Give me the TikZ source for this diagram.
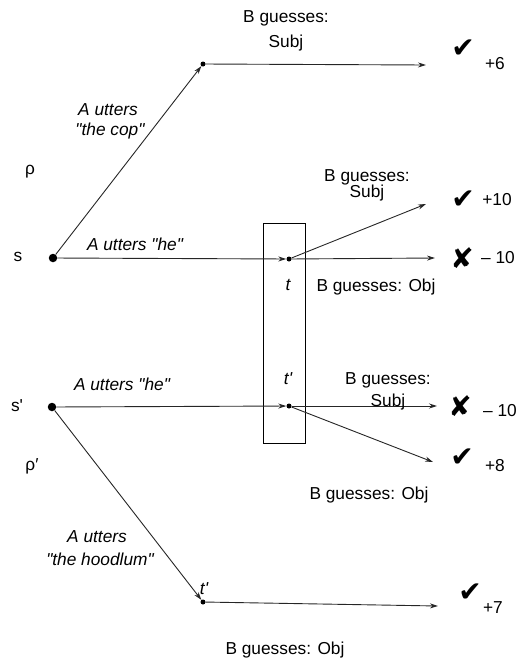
\documentclass[tikz,border=0pt]{standalone}
\usepackage{fontspec}
\newfontfamily\lib{Liberation Sans}
\newfontfamily\dej{DejaVu Sans}
\usetikzlibrary{arrows.meta}
\begin{document}
\begin{tikzpicture}[x=1pt,y=-1pt,
  txt/.style={font=\lib\fontsize{17.3}{19}\selectfont, inner sep=0pt, anchor=center},
  itx/.style={font=\lib\itshape\fontsize{17.3}{19}\selectfont, inner sep=0pt, anchor=center},
  outmark/.style={font=\dej\fontsize{28}{30}\selectfont, inner sep=0pt},
  bigdot/.style={circle, fill=black, inner sep=0pt, minimum size=8.5pt},
  smdot/.style={circle, fill=black, inner sep=0pt, minimum size=5pt},
  arr/.style={line width=0.9pt, draw=black!85, -{Stealth[length=8pt,width=5pt]}}]
\useasboundingbox (0,0) rectangle (517,659);

% nodes
\node[bigdot] (s) at (53,258) {};
\node[bigdot] (s2) at (52,407) {};
\node[smdot] (u) at (203,64) {};
\node[smdot] (t) at (289,259) {};
\node[smdot] (t2) at (289,406) {};
\node[smdot] (lt) at (203,602) {};
\coordinate (e1) at (426,65);
\coordinate (e2) at (426,204);
\coordinate (e3) at (435,258);
\coordinate (e4) at (437,406);
\coordinate (e5) at (433,462);
\coordinate (e6) at (438,606);

% box
\node[draw, line width=0.9pt, minimum width=42pt, minimum height=220pt, inner sep=0pt] (box) at (284,333) {};

% connectors
\draw[arr] (s) -- (u);
\draw[arr] (u) -- (e1);
\draw[arr] (s) -- (t);
\draw[arr] (t) -- (e2);
\draw[arr] (t) -- (e3);
\draw[arr] (s2) -- (t2);
\draw[arr] (t2) -- (e4);
\draw[arr] (t2) -- (e5);
\draw[arr] (s2) -- (lt);
\draw[arr] (lt) -- (e6);

% left labels
\node[txt] (ls) at (18,257) {s};
\node[txt] (ls2) at (17,406) {s'};
\node[txt] (rho) at (30,172) {ρ};
\node[txt] (rho2) at (32,466) {ρ′};

\node[itx] (a1) at (108,110) {A utters};
\node[itx] (a1b) at (110,131) {"the cop"};
\node[itx] (a2) at (135,244) {A utters "he"};
\node[itx] (a3) at (122,384) {A utters "he"};
\node[itx] (a4) at (97,537) {A utters};
\node[itx] (a4b) at (100,559) {"the hoodlum"};

\node[itx] (lt1) at (288,285) {t};
\node[itx] (lt2) at (288,379) {t'};
\node[itx] (lt3) at (204,589) {t'};

% B guesses labels
\node[txt] (b1) at (286,18) {B guesses:};
\node[txt] (b1b) at (286,43) {Subj};
\node[txt] (b2) at (367,177) {B guesses:};
\node[txt] (b2b) at (367,193) {Subj};
\node[txt] (b3) at (376,287) {B guesses: Obj};
\node[txt] (b4) at (388,380) {B guesses:};
\node[txt] (b4b) at (388,402) {Subj};
\node[txt] (b5) at (369,495) {B guesses: Obj};
\node[txt] (b6) at (285,650) {B guesses: Obj};

% outcomes
\node[outmark] (c1) at (463,49) {✔};
\node[txt] (p1) at (495,64) {+6};
\node[outmark] (c2) at (463,200) {✔};
\node[txt] (p2) at (497,200) {+10};
\node[outmark] (x1) at (462,258) {✘};
\node[txt] (p3) at (498,258) {– 10};
\node[outmark] (x2) at (460,406) {✘};
\node[txt] (p4) at (500,411) {– 10};
\node[outmark] (c3) at (462,458) {✔};
\node[txt] (p5) at (495,466) {+8};
\node[outmark] (c4) at (470,593) {✔};
\node[txt] (p6) at (493,608) {+7};
\end{tikzpicture}
\end{document}
